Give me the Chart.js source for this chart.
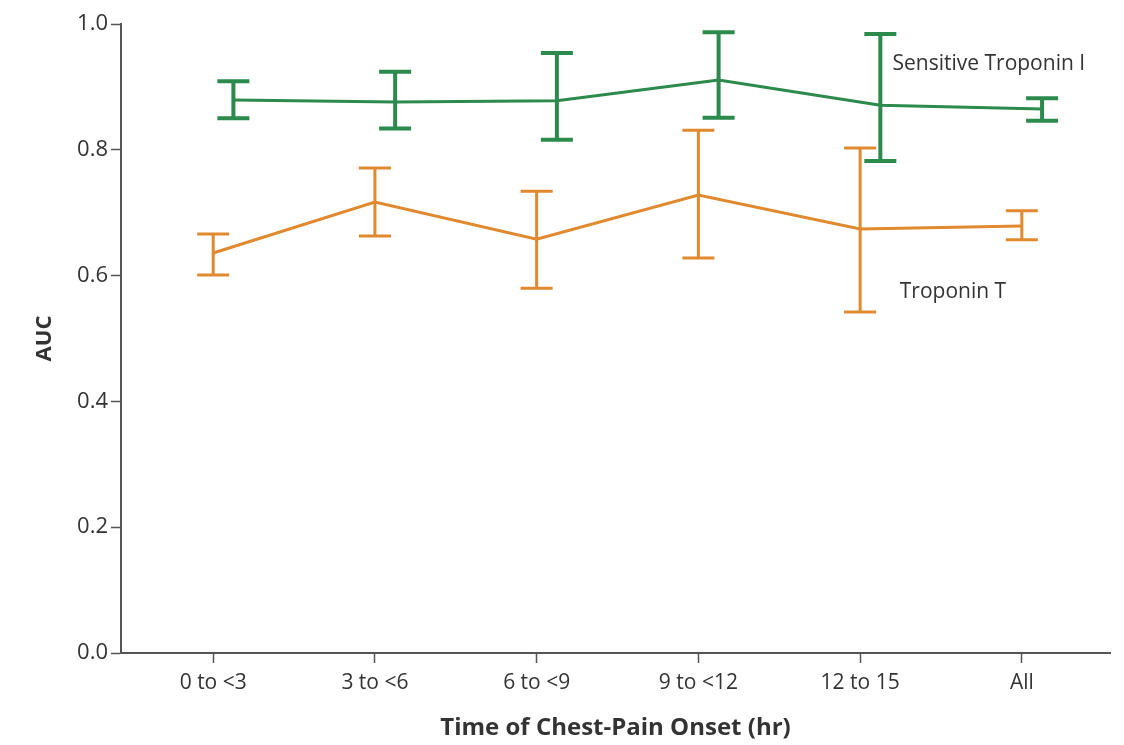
<!DOCTYPE html>
<html>
<head>
<meta charset="utf-8">
<script src="https://cdn.jsdelivr.net/npm/chart.js@4.4.1/dist/chart.umd.min.js"></script>
<style>
  html, body { margin: 0; padding: 0; background: #fff; }
  #wrap { width: 1124px; height: 745px; }
</style>
</head>
<body>
<div id="wrap"><canvas id="myChart" width="1124" height="745"></canvas></div>
<script>
const categories = ['0 to <3', '3 to <6', '6 to <9', '9 to <12', '12 to 15', 'All'];

// Sensitive Troponin I
const tniAuc  = [0.879, 0.876, 0.878, 0.911, 0.871, 0.865];
const tniLow  = [0.850, 0.834, 0.816, 0.851, 0.782, 0.846];
const tniHigh = [0.909, 0.924, 0.954, 0.987, 0.984, 0.882];

// Troponin T
const tntAuc  = [0.636, 0.717, 0.658, 0.728, 0.674, 0.679];
const tntLow  = [0.601, 0.663, 0.580, 0.628, 0.542, 0.657];
const tntHigh = [0.666, 0.771, 0.734, 0.831, 0.803, 0.703];

const yTicks = [0, 0.2, 0.4, 0.6, 0.8, 1.0];

const GREEN = '#2b8a4c';
const ORANGE = '#e0892f';
const AXIS = '#555555';
const TEXT = '#333333';
const GREEN_SHIFT = 0.125; // green bars sit a little right of the category

const font = '"Open Sans", sans-serif';

const errorBars = {
    id: 'errorBars',
    afterDatasetsDraw(chart) {
        const { ctx, scales: { x, y } } = chart;
        const sets = [
            { mid: tntAuc, low: tntLow, high: tntHigh, color: ORANGE, shift: 0, w: 3 },
            { mid: tniAuc, low: tniLow, high: tniHigh, color: GREEN, shift: GREEN_SHIFT, w: 4 }
        ];
        ctx.save();
        sets.forEach(s => {
            ctx.strokeStyle = s.color;
            ctx.lineWidth = s.w;
            s.mid.forEach((v, i) => {
                const px = x.getPixelForValue(i + s.shift);
                const top = y.getPixelForValue(s.high[i]);
                const bot = y.getPixelForValue(s.low[i]);
                ctx.beginPath();
                ctx.moveTo(px, top); ctx.lineTo(px, bot);
                ctx.moveTo(px - 16, top); ctx.lineTo(px + 16, top);
                ctx.moveTo(px - 16, bot); ctx.lineTo(px + 16, bot);
                ctx.stroke();
            });
        });
        // series labels
        ctx.fillStyle = TEXT;
        ctx.font = '21px ' + font;
        ctx.textBaseline = 'middle';
        ctx.textAlign = 'left';
        ctx.fillText('Sensitive Troponin I', x.getPixelForValue(4.2), y.getPixelForValue(0.936));
        ctx.fillText('Troponin T', x.getPixelForValue(4.245), y.getPixelForValue(0.574));
        ctx.restore();
    }
};

const ctx = document.getElementById('myChart').getContext('2d');
const myChart = new Chart(ctx, {
    type: 'line',
    data: {
        datasets: [
            {
                label: 'Sensitive Troponin I',
                data: tniAuc.map((v, i) => ({ x: i + GREEN_SHIFT, y: v })),
                borderColor: GREEN,
                borderWidth: 3,
                pointRadius: 0,
                tension: 0
            },
            {
                label: 'Troponin T',
                data: tntAuc.map((v, i) => ({ x: i, y: v })),
                borderColor: ORANGE,
                borderWidth: 3,
                pointRadius: 0,
                tension: 0
            }
        ]
    },
    options: {
        responsive: false,
        animation: false,
        layout: { padding: { top: 24, right: 14, left: 0, bottom: 0 } },
        plugins: {
            legend: { display: false },
            tooltip: { enabled: false }
        },
        scales: {
            x: {
                type: 'linear',
                min: -0.57,
                max: 5.545,
                afterFit: s => { s.height = 92; },
                afterBuildTicks: s => { s.ticks = categories.map((c, i) => ({ value: i })); },
                border: { color: AXIS, width: 2 },
                grid: { drawOnChartArea: false, tickLength: 10, tickColor: AXIS, tickWidth: 1.5 },
                ticks: {
                    color: TEXT,
                    padding: 7,
                    font: { family: font, size: 21 },
                    callback: v => categories[v]
                },
                title: {
                    display: true,
                    text: 'Time of Chest-Pain Onset (hr)',
                    color: TEXT,
                    font: { family: font, size: 24, weight: 'bold' },
                    padding: { top: 0, bottom: 2 }
                }
            },
            y: {
                min: 0,
                max: 1,
                afterFit: s => { s.width = 121; },
                afterBuildTicks: s => { s.ticks = yTicks.map(v => ({ value: v })); },
                border: { color: AXIS, width: 2 },
                grid: { drawOnChartArea: false, tickLength: 10, tickColor: AXIS, tickWidth: 1.5 },
                ticks: {
                    color: TEXT,
                    padding: 3,
                    font: { family: font, size: 22 },
                    callback: v => v.toFixed(1)
                },
                title: {
                    display: true,
                    text: 'AUC',
                    color: TEXT,
                    font: { family: font, size: 22, weight: 'bold' },
                    padding: { top: 32, bottom: 0 }
                }
            }
        }
    },
    plugins: [errorBars]
});
</script>
</body>
</html>
